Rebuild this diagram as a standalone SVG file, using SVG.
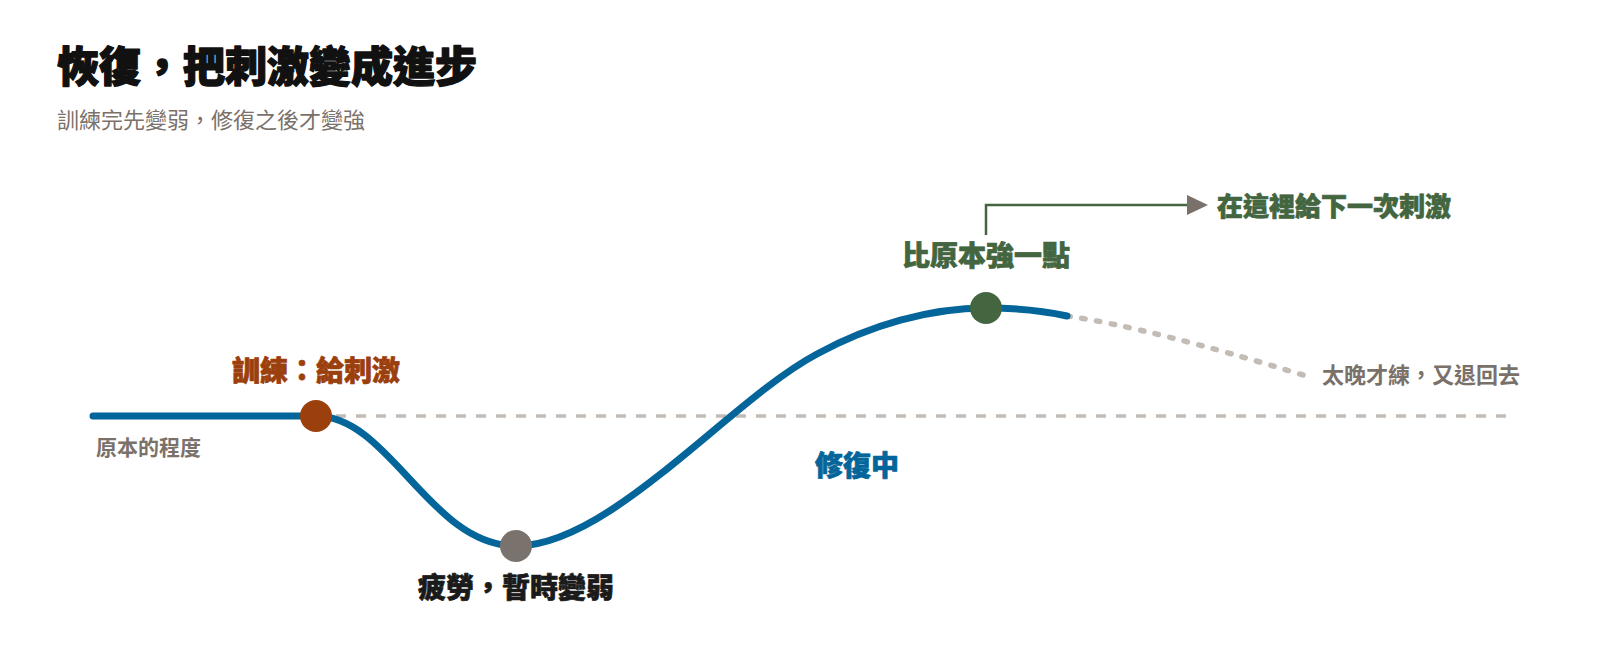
<svg xmlns="http://www.w3.org/2000/svg" width="1600" height="645" viewBox="0 0 1600 645">
  <defs>
    <style>
      text { font-family: "Noto Sans CJK TC", "Noto Sans CJK SC", "Noto Sans", sans-serif; }
      .title { font-size: 42px; font-weight: 900; fill: #111111; stroke: #111111; stroke-width: 1.4px; stroke-linejoin: round; }
      .subtitle { font-size: 22px; font-weight: 400; fill: #7a716b; }
      .lbl { font-size: 28px; font-weight: 900; stroke-width: 0.7px; stroke-linejoin: round; }
      .small { font-size: 21px; font-weight: 700; fill: #7a716b; }
      .curve { fill: none; stroke: #03659a; stroke-width: 7; stroke-linecap: round; stroke-linejoin: round; }
      .base { fill: none; stroke: #c2bcb5; stroke-width: 3.5; stroke-dasharray: 10 10; }
      .decline { fill: none; stroke: #c2bcb5; stroke-width: 5.5; stroke-linecap: round; stroke-dasharray: 3.5 11.5; }
      .pointer { fill: none; stroke: #436640; stroke-width: 2.5; }
    </style>
    <marker id="arrowhead" markerUnits="userSpaceOnUse" markerWidth="22" markerHeight="22" refX="0" refY="10" orient="auto" viewBox="0 0 22 22">
      <path d="M0,0 L21,10 L0,20 Z" fill="#7a716b"/>
    </marker>
  </defs>

  <rect x="0" y="0" width="1600" height="645" fill="#ffffff"/>

  <g id="header">
    <text class="title" x="57" y="82">恢復，把刺激變成進步</text>
    <text class="subtitle" x="57" y="128">訓練完先變弱，修復之後才變強</text>
  </g>

  <g id="connectors">
    <path class="base" d="M316 416 H1506"/>
    <path class="decline" d="M1067 316 Q1150 328 1303 375"/>
    <path class="curve" d="M93 416 L316 416 C390 416 430 546 516 546 C610 546 730 400 817 354 C870 325 930 308 986 308 C1020 308 1045 311 1067 316"/>
    <path class="pointer" d="M986 235 V205 H1187" marker-end="url(#arrowhead)"/>
  </g>

  <g id="baseline-label">
    <text class="small" x="96" y="455">原本的程度</text>
  </g>

  <g id="node-stimulus">
    <circle cx="316" cy="416" r="16" fill="#9b3f0d"/>
    <text class="lbl" x="316" y="381" text-anchor="middle" fill="#9b3f0d" stroke="#9b3f0d">訓練：給刺激</text>
  </g>

  <g id="node-fatigue">
    <circle cx="516" cy="546" r="16" fill="#7a726c"/>
    <text class="lbl" x="516" y="598" text-anchor="middle" fill="#1a1a1a" stroke="#1a1a1a">疲勞，暫時變弱</text>
  </g>

  <g id="label-repair">
    <text class="lbl" x="857" y="476" text-anchor="middle" fill="#03659a" stroke="#03659a">修復中</text>
  </g>

  <g id="node-stronger">
    <circle cx="986" cy="308" r="16" fill="#436640"/>
    <text class="lbl" x="986" y="266" text-anchor="middle" fill="#436640" stroke="#436640">比原本強一點</text>
  </g>

  <g id="label-next">
    <text class="lbl" x="1217" y="216" style="font-size:26px" fill="#436640" stroke="#436640">在這裡給下一次刺激</text>
  </g>

  <g id="label-decline">
    <text class="small" x="1322" y="383" style="font-size:22px">太晚才練，又退回去</text>
  </g>
</svg>
